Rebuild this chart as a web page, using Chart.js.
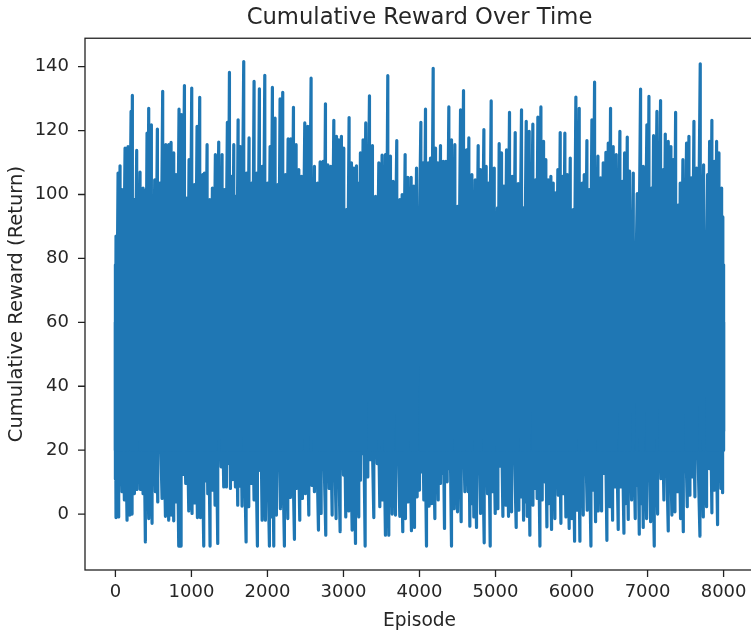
<!DOCTYPE html>
<html>
<head>
<meta charset="utf-8">
<title>Cumulative Reward Over Time</title>
<script src="https://cdn.jsdelivr.net/npm/chart.js@4"></script>
<style>
    html, body { margin: 0; padding: 0; background: #fff; overflow: hidden; }
    #wrap { width: 751px; height: 632px; overflow: hidden; }
</style>
</head>
<body>
<div id="wrap"><canvas id="rewardChart" width="760" height="632" style="width:760px;height:632px"></canvas></div>
<script>
// upper edge of the band
const peakEpisodes = [0,8,35,61,87,127,166,206,223,245,280,324,364,390,416,438,473,487,517,552,583,622,662,701,732,767,798,837,868,908,938,969,1004,1039,1074,1109,1149,1171,1206,1241,1276,1315,1359,1403,1434,1473,1500,1530,1557,1583,1614,1644,1688,1723,1758,1793,1824,1859,1894,1930,1965,2000,2035,2065,2100,2136,2166,2201,2236,2272,2307,2342,2377,2412,2447,2491,2530,2574,2618,2658,2693,2732,2763,2794,2833,2873,2908,2938,2973,3004,3039,3074,3105,3136,3171,3201,3223,3258,3293,3342,3381,3421,3465,3508,3552,3583,3618,3653,3701,3741,3772,3811,3846,3890,3925,3961,4018,4048,4079,4114,4145,4180,4211,4241,4276,4312,4347,4386,4421,4465,4500,4540,4579,4619,4649,4689,4733,4772,4803,4847,4877,4904,4943,4983,5026,5048,5079,5110,5145,5184,5219,5259,5298,5342,5364,5404,5443,5491,5526,5557,5597,5632,5662,5693,5728,5759,5785,5820,5851,5882,5912,5943,5983,6022,6057,6101,6141,6167,6202,6233,6268,6303,6347,6382,6417,6452,6483,6513,6548,6588,6636,6667,6698,6733,6763,6812,6864,6908,6943,6991,7018,7053,7079,7123,7171,7206,7233,7272,7307,7338,7369,7408,7430,7465,7513,7544,7575,7610,7645,7693,7737,7790,7816,7846,7877,7908,7939,7974,7990,8000];
const peakReturns = [78,87,106.7,109,101.5,114.5,115,126,131,98.4,113.8,107,102,101.3,119.2,127,121.8,96.3,104.6,120.5,103.6,132.3,115.6,115.6,116.3,113,106.2,126.7,125,134.1,98.9,110.9,133.3,103.1,121.3,130.4,106.2,106.7,115.6,98.4,102,112.5,116.4,112.5,101.5,122.6,138.2,105.7,115.6,99.4,123.4,115,141.6,106.7,117.7,103.6,135.4,106.7,133.1,108.8,137.3,103.6,115,133.5,123.9,103.1,129.9,132,106.2,117.4,117.4,127.3,115.6,107.8,105.7,122.4,121.3,136.4,108.8,103.6,110.2,110.4,128.4,109.3,108.8,123.2,118.2,117.1,118.2,114.5,95.3,124.1,109.9,108.3,109,103.6,113,117.1,122.4,130.9,115.3,99.4,109.9,112.3,112.5,137.2,112,104.1,116.9,98.4,100,112.5,105.4,105.4,102.6,108.3,122.6,109.9,126.7,109.9,111.4,139.5,114.5,109.9,115.3,110.4,110.4,127.4,117.1,115.6,96.3,126.5,132.5,114,117.7,106.2,104.6,115.3,107.8,120.3,108.8,103.6,129.3,108.3,95.8,115.9,113,102.6,114,125.7,105.7,119.4,103.4,126.5,95.8,122.9,119.8,122,104.6,124.2,127.4,116.6,110.9,104.6,105.7,103.6,100.5,107.8,119.4,105.7,119.2,106.2,111.4,95.3,130.5,127,103.6,106.2,116.9,101.5,123.4,135.2,112,105.2,109.9,113.2,116.1,127,115,112.5,119.8,104.1,113,118,107.3,106.7,100.3,133,108.8,121.8,130.7,102,118.4,126,129.4,107.8,118.9,116.6,115,110.9,125.7,96.8,103.6,110.9,116.1,118.2,105.2,122.9,108.3,140.9,109.3,106.2,116.6,123.2,110.4,116.6,113,102,93,78];
// lower edge of the band
const troughEpisodes = [0,8,43,87,118,153,188,219,250,285,329,364,394,438,482,526,557,614,658,701,732,767,798,833,864,890,925,965,1008,1044,1079,1118,1162,1193,1215,1245,1280,1311,1346,1390,1425,1460,1491,1513,1544,1579,1609,1636,1666,1719,1754,1789,1824,1868,1899,1930,1973,2026,2057,2083,2118,2171,2223,2267,2302,2355,2381,2425,2460,2500,2544,2583,2618,2671,2706,2767,2811,2851,2903,2956,3000,3030,3070,3114,3158,3201,3223,3250,3285,3320,3350,3399,3443,3478,3513,3552,3596,3640,3684,3741,3780,3815,3850,3894,3934,3969,4000,4031,4057,4092,4127,4162,4202,4246,4276,4298,4329,4364,4386,4421,4456,4500,4548,4597,4641,4662,4689,4715,4750,4803,4851,4895,4930,4956,4996,5031,5062,5097,5136,5171,5211,5272,5307,5342,5369,5395,5417,5452,5492,5522,5548,5584,5614,5645,5676,5702,5737,5781,5825,5860,5895,5926,5969,6005,6040,6075,6110,6154,6206,6255,6285,6316,6351,6395,6430,6465,6505,6540,6570,6614,6645,6689,6711,6746,6790,6838,6855,6891,6913,6943,6987,7040,7088,7132,7176,7215,7272,7320,7360,7395,7434,7470,7522,7557,7583,7623,7689,7733,7776,7816,7846,7882,7921,7965,7987,8000];
const troughReturns = [11,-1.1,-0.9,7,4.4,-1.9,-0.3,0,6.4,7.7,7.7,6.4,-8.7,-1.4,-2.9,7,3.8,4.9,-0.7,-1.9,-0.3,-2.1,3.8,-10,-10,12.4,9.6,1,0.2,3.5,-1.1,-1.1,-10,10.4,6.4,-10,7.5,2.8,-9.2,14.8,8.5,8.5,15.8,8,10.8,8.5,2.8,8.7,2.5,-8.7,2.3,9.6,4.4,-10,13.7,-1.9,-1.9,-10,-0.9,-10,-0.3,1.7,-10,-1.4,5.2,-7.9,8,-1.9,4.9,6.4,-0.3,9,7,-5,0.2,-6.6,8,-0.3,-1.4,-5.5,12.2,-0.9,1,-5,-9.2,-0.9,10.6,18.9,-10,11.6,17,-1.1,15.8,2.3,4.4,-6.6,-6.6,0,-0.3,-0.7,-5.5,-1.4,3.8,-5.2,-4.2,5.4,7.5,13.2,4.4,-10,2.5,3.3,-1.4,4.4,9.6,12.7,-4.5,10.1,14.2,-10,1.7,0.7,-2.4,7,7,-3.8,3.3,-0.9,-4.2,0.2,-9,6.4,-10,7,0.2,1.7,15,-0.7,2.8,-0.7,0.7,-4.2,1.2,5.4,-1.9,3.8,-0.7,-6.6,2.8,8,4.9,-10,4.4,10.1,-4,3.3,-4.8,-1.4,5.9,-2.9,6.4,-0.9,-4.5,-1.4,-8.5,1.2,-8.5,-0.3,1.2,-10,7.5,-2.4,1,1,12.7,-8.2,2.3,-1.9,8.5,-4.8,8.5,-6,3.3,-1.7,4.4,-1.4,9,-6.3,3.3,-4.2,-1.4,-2.4,-10,0,11.1,4.4,-5.3,-0.3,0.7,7,-1.4,-5.5,2.3,5.9,11.6,5.4,-6.9,-0.9,2.3,14.2,0.4,7.5,-3.3,8,6.7,26];

// each peak swings back down to this level and each trough back up to this one
const peakSwing = 20;
const troughSwing = 60;

const xTickValues = [0, 1000, 2000, 3000, 4000, 5000, 6000, 7000, 8000];
const yTickValues = [0, 20, 40, 60, 80, 100, 120, 140];

function swings(episodes, returns, back) {
    return episodes.flatMap((ep, i) => [
        { x: ep, y: returns[i] },
        { x: ep, y: back }
    ]);
}

const lineStyle = {
    borderColor: "#1f77b4",
    borderWidth: 3.2,
    borderJoinStyle: "round",
    borderCapStyle: "round",
    pointRadius: 0,
    tension: 0,
    fill: false
};

// closed frame and outward tick marks
const axesBox = {
    id: "axesBox",
    afterDraw(chart) {
        const { ctx, chartArea: a, scales } = chart;
        ctx.save();
        ctx.strokeStyle = "#222";
        ctx.lineWidth = 1.3;
        ctx.strokeRect(a.left, a.top, a.right - a.left, a.bottom - a.top);
        ctx.beginPath();
        xTickValues.forEach(v => {
            const px = scales.x.getPixelForValue(v);
            ctx.moveTo(px, a.bottom);
            ctx.lineTo(px, a.bottom + 7);
        });
        yTickValues.forEach(v => {
            const py = scales.y.getPixelForValue(v);
            ctx.moveTo(a.left, py);
            ctx.lineTo(a.left - 7, py);
        });
        ctx.stroke();
        ctx.restore();
    }
};

new Chart(document.getElementById("rewardChart"), {
    type: "line",
    data: {
        datasets: [
            { data: swings(peakEpisodes, peakReturns, peakSwing), ...lineStyle },
            { data: swings(troughEpisodes, troughReturns, troughSwing), ...lineStyle }
        ]
    },
    options: {
        responsive: false,
        animation: false,
        layout: { padding: { right: 6 } },
        plugins: {
            legend: { display: false },
            tooltip: { enabled: false },
            title: {
                display: true,
                fullSize: false,
                text: "Cumulative Reward Over Time",
                color: "#262626",
                font: { family: "DejaVu Sans", size: 22.7, weight: "normal", lineHeight: 1.2 },
                padding: { top: 4, bottom: 7 }
            }
        },
        scales: {
            x: {
                type: "linear",
                min: -400,
                max: 8400,
                grid: { display: false, drawTicks: false },
                border: { display: false },
                afterBuildTicks: s => { s.ticks = xTickValues.map(v => ({ value: v })); },
                afterFit: s => { s.height = 62; },
                ticks: {
                    color: "#262626",
                    maxRotation: 0,
                    autoSkip: false,
                    padding: 12,
                    callback: v => String(v),
                    font: { family: "DejaVu Sans", size: 18 }
                },
                title: {
                    display: true,
                    text: "Episode",
                    color: "#262626",
                    padding: { top: 0, bottom: 0 },
                    font: { family: "DejaVu Sans", size: 18.6 }
                }
            },
            y: {
                type: "linear",
                min: -17.5,
                max: 148.9,
                grid: { display: false, drawTicks: false },
                border: { display: false },
                afterBuildTicks: s => { s.ticks = yTickValues.map(v => ({ value: v })); },
                afterFit: s => { s.width = 85; },
                ticks: {
                    color: "#262626",
                    autoSkip: false,
                    padding: 16,
                    callback: v => String(v),
                    font: { family: "DejaVu Sans", size: 18 }
                },
                title: {
                    display: true,
                    text: "Cumulative Reward (Return)",
                    color: "#262626",
                    padding: { top: 5, bottom: 0 },
                    font: { family: "DejaVu Sans", size: 19.5 }
                }
            }
        }
    },
    plugins: [axesBox]
});
</script>
</body>
</html>
